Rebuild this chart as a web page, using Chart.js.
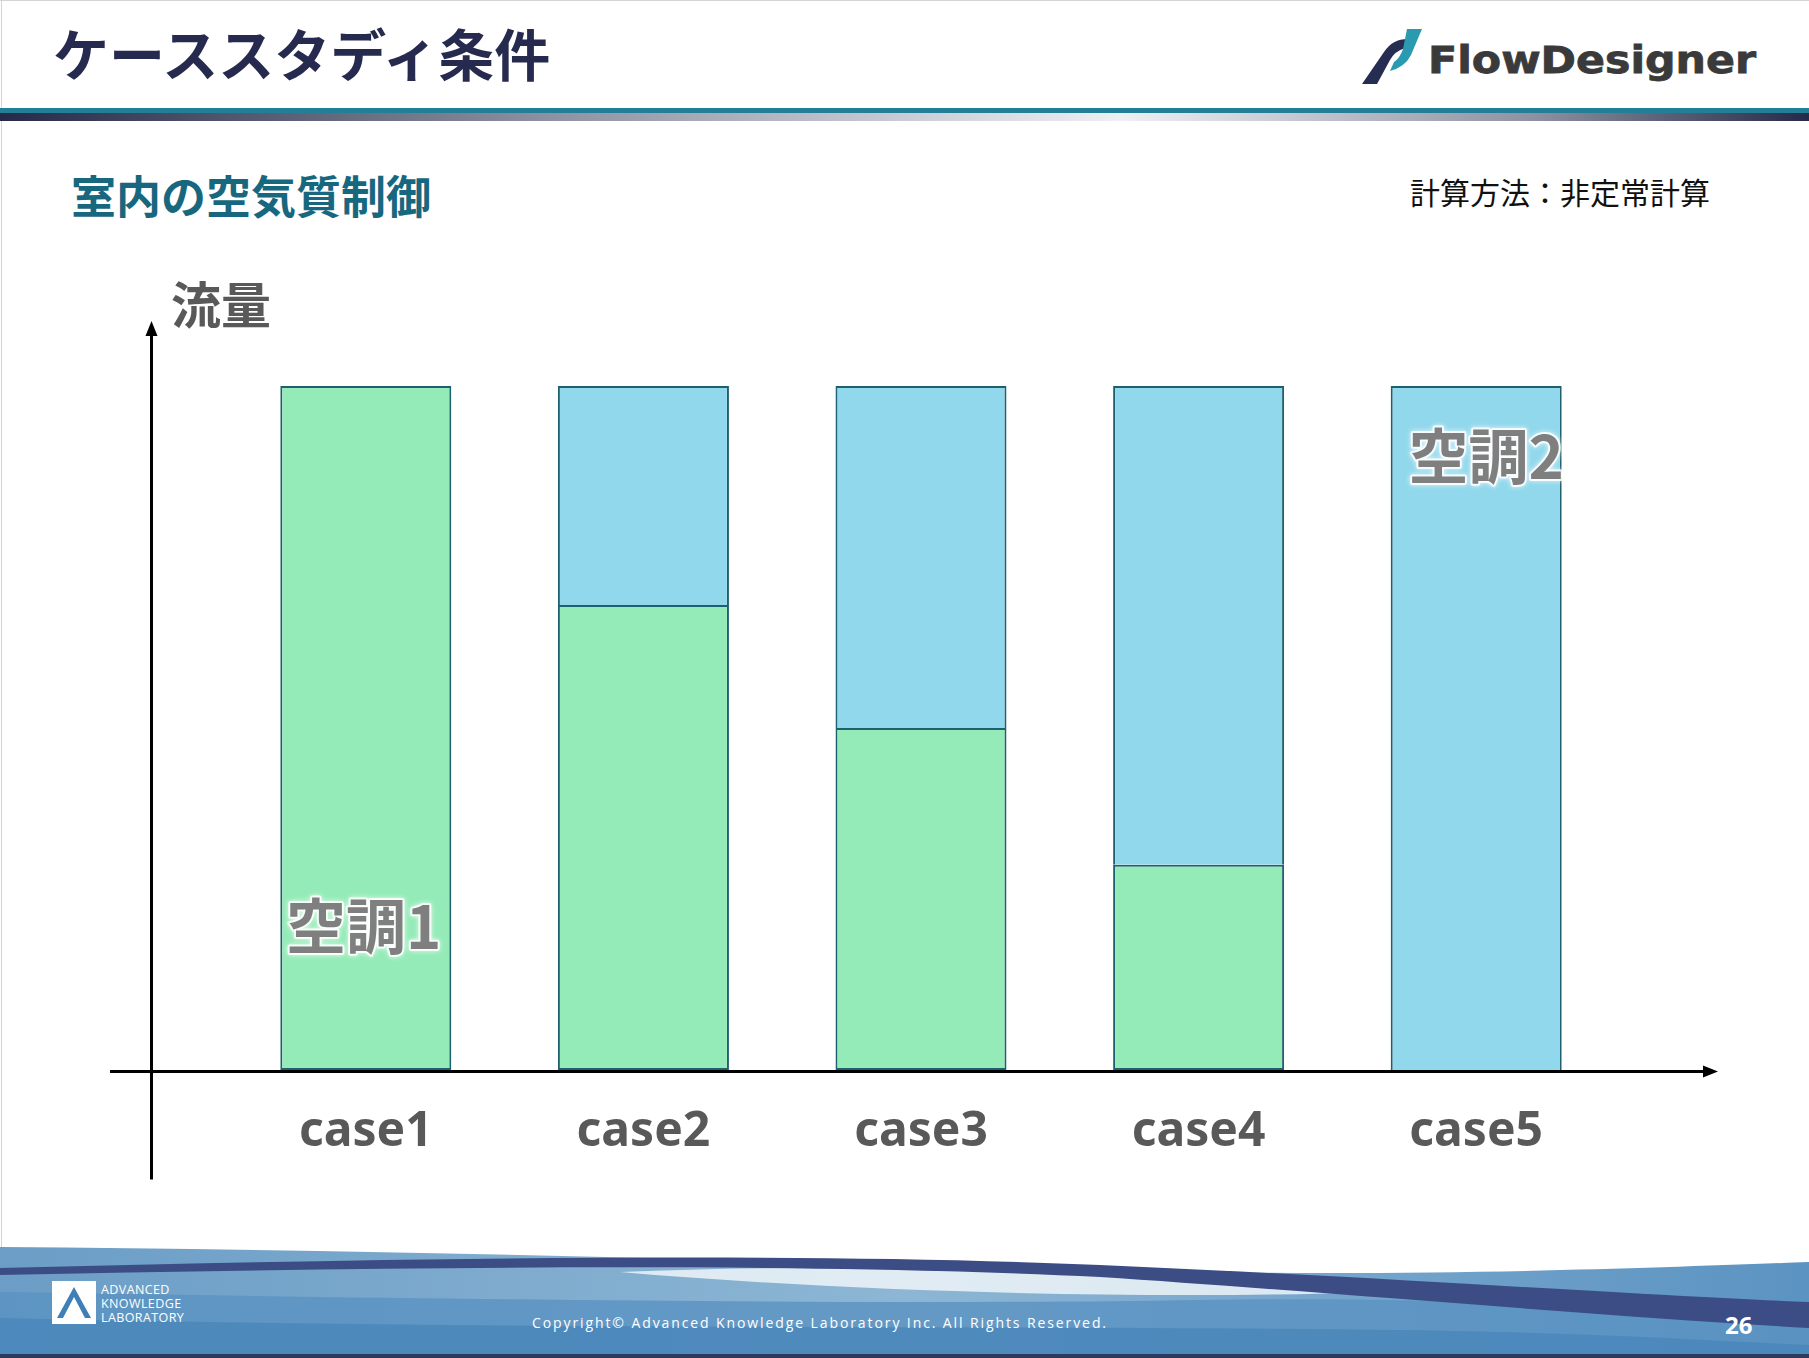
<!DOCTYPE html>
<html>
<head>
<meta charset="utf-8">
<script src="https://cdn.jsdelivr.net/npm/chart.js@4.4.1/dist/chart.umd.min.js"></script>
<style>
  body { margin: 0; width: 1809px; height: 1358px; position: relative; overflow: hidden; background: #fff; }
  .txt { position: absolute; white-space: nowrap; line-height: 1; font-family: "Noto Sans CJK JP", "Noto Sans", sans-serif; }
  #title { left: 53px; top: 24px; font-size: 56px; font-weight: 700; color: #262a4e; }
  #sub { left: 71px; top: 172px; font-size: 45px; font-weight: 700; color: #17687f; }
  #method { left: 1410px; top: 176px; font-size: 30px; color: #111; }
  #ylab { left: 171px; top: 277px; font-size: 50px; font-weight: 700; color: #595959; }
  #copy { left: 532px; top: 1316px; font-size: 14px; letter-spacing: 1.9px; color: #fff; font-family: "Open Sans", sans-serif; }
  #page { left: 1725px; top: 1313px; font-size: 24px; font-weight: 700; color: #fff; font-family: "Open Sans", sans-serif; }
  .akl { left: 101px; font-size: 12.5px; letter-spacing: 0.4px; color: #fff; font-family: "Open Sans", sans-serif; }
  canvas { position: absolute; left: 0; top: 0; }
</style>
</head>
<body>
<svg width="1809" height="1358" style="position:absolute;left:0;top:0">
  <defs>
    <linearGradient id="hdr" x1="0" x2="1" y1="0" y2="0">
      <stop offset="0" stop-color="#262a48"/>
      <stop offset="0.3" stop-color="#8c90a0"/>
      <stop offset="0.62" stop-color="#eef0f4"/>
      <stop offset="0.85" stop-color="#8c90a0"/>
      <stop offset="1" stop-color="#262a48"/>
    </linearGradient>
    <linearGradient id="foot" x1="0" x2="1" y1="0" y2="0">
      <stop offset="0" stop-color="#6b9dc6"/>
      <stop offset="0.5" stop-color="#8db6d4"/>
      <stop offset="1" stop-color="#5b93c2"/>
    </linearGradient>
  </defs>
  <rect x="0" y="0" width="1809" height="1" fill="#d4d4d4"/>
  <rect x="1" y="0" width="1" height="1358" fill="#d4d4d4"/>
  <rect x="0" y="108" width="1809" height="5" fill="#237f96"/>
  <rect x="0" y="113" width="1809" height="8" fill="url(#hdr)"/>

  <!-- FlowDesigner logo -->
  <path d="M1362,84 L1377,84 L1390,60 Q1395,51 1405,48 L1410,39 Q1393,38 1384,52 Z" fill="#262d52"/>
  <path d="M1407,29 L1422,29 L1411,55 Q1405,67 1390,71 L1394,62 Q1400,58 1403,49 Z" fill="#2a9ab0"/>
  <text x="1428" y="73" font-family="DejaVu Sans" font-weight="bold" font-size="37" fill="#3a3a3a" stroke="#3a3a3a" stroke-width="0.8" textLength="328" lengthAdjust="spacingAndGlyphs">FlowDesigner</text>

  <!-- footer waves -->
  <path d="M0,1247 C400,1250 800,1262 1100,1270 C1400,1278 1650,1268 1809,1262 L1809,1358 L0,1358 Z" fill="url(#foot)"/>
  <path d="M620,1272 C850,1262 1150,1270 1380,1292 C1150,1300 850,1292 620,1272 Z" fill="#eef4f8" opacity="0.85"/>
  <path d="M0,1292 C500,1300 900,1305 1200,1300 C1450,1296 1650,1310 1809,1318 L1809,1358 L0,1358 Z" fill="#5a92c2" opacity="0.8"/>
  <path d="M0,1318 C500,1330 1000,1325 1400,1330 C1600,1333 1700,1340 1809,1345 L1809,1358 L0,1358 Z" fill="#4a86ba" opacity="0.8"/>
  <path d="M0,1268 C400,1258 800,1252 1100,1265 C1400,1278 1650,1296 1809,1302 L1809,1328 C1600,1316 1300,1290 1100,1277 C800,1262 400,1267 0,1275 Z" fill="#3c4d85"/>
  <rect x="0" y="1354" width="1809" height="4" fill="#2b3b5a"/>

  <!-- AKL logo -->
  <rect x="52" y="1281" width="44" height="43" fill="#fff"/>
  <path d="M57,1318 L74,1287 L91,1318 L85,1318 L74,1297 L63,1318 Z" fill="#3f7fb8"/>
</svg>

<div class="txt" id="title">ケーススタディ条件</div>
<div class="txt" id="sub">室内の空気質制御</div>
<div class="txt" id="method">計算方法：非定常計算</div>
<div class="txt" id="ylab">流量</div>
<div class="txt akl" style="top:1284px">ADVANCED</div>
<div class="txt akl" style="top:1298px">KNOWLEDGE</div>
<div class="txt akl" style="top:1312px">LABORATORY</div>
<div class="txt" id="copy">Copyright© Advanced Knowledge Laboratory Inc. All Rights Reserved.</div>
<div class="txt" id="page">26</div>

<canvas id="chart" width="1809" height="1358"></canvas>

<script>
// 데이터
const cases = ['case1', 'case2', 'case3', 'case4', 'case5'];
const seriesNames = ['空調1', '空調2'];
const ac1 = [100, 68, 50, 30, 0];
const ac2 = [0, 32, 50, 70, 100];

// 축 화살표 + 라벨
const axisPlugin = {
    id: 'axisPlugin',
    afterDatasetsDraw(chart) {
        const ctx = chart.ctx;
        const area = chart.chartArea;
        const xs = chart.scales.x;
        const ys = chart.scales.y;
        const y0 = ys.getPixelForValue(0) + 1.5;
        const ax = area.left - 75.5;

        ctx.save();
        ctx.strokeStyle = '#000';
        ctx.fillStyle = '#000';
        ctx.lineWidth = 3;
        // x axis
        ctx.beginPath();
        ctx.moveTo(area.left - 117, y0);
        ctx.lineTo(area.right + 92, y0);
        ctx.stroke();
        ctx.beginPath();
        ctx.moveTo(area.right + 103, y0);
        ctx.lineTo(area.right + 88, y0 - 6);
        ctx.lineTo(area.right + 88, y0 + 6);
        ctx.closePath();
        ctx.fill();
        // y axis
        ctx.beginPath();
        ctx.moveTo(ax, y0 + 108);
        ctx.lineTo(ax, area.top - 54);
        ctx.stroke();
        ctx.beginPath();
        ctx.moveTo(ax, area.top - 65);
        ctx.lineTo(ax - 6, area.top - 50);
        ctx.lineTo(ax + 6, area.top - 50);
        ctx.closePath();
        ctx.fill();

        // case labels
        ctx.font = 'bold 48px "Noto Sans", sans-serif';
        ctx.fillStyle = '#595959';
        ctx.textAlign = 'center';
        ctx.textBaseline = 'middle';
        cases.forEach((c, i) => {
            ctx.fillText(c, xs.getPixelForValue(i), y0 + 61);
        });

        // series labels inside bars
        const m0 = chart.getDatasetMeta(0).data[0];
        const m1 = chart.getDatasetMeta(1).data[4];
        const spots = [
            [seriesNames[0], m0.x - 2, ys.getPixelForValue(21)],
            [seriesNames[1], m1.x + 10, ys.getPixelForValue(89.8)],
        ];
        ctx.font = 'bold 60px "Noto Sans CJK JP", sans-serif';
        spots.forEach(([t, x, y]) => {
            ctx.save();
            ctx.shadowColor = 'rgba(255,255,255,0.9)';
            ctx.shadowBlur = 5;
            ctx.strokeStyle = 'rgba(255,255,255,0.85)';
            ctx.lineWidth = 4;
            ctx.lineJoin = 'round';
            ctx.strokeText(t, x, y);
            ctx.restore();
            ctx.fillStyle = '#7f7f7f';
            ctx.fillText(t, x, y);
        });
        ctx.restore();
    }
};

new Chart(document.getElementById('chart'), {
    type: 'bar',
    data: {
        labels: cases,
        datasets: [{
            label: seriesNames[0],
            data: ac1,
            backgroundColor: '#95ebb8',
            borderColor: '#1e5f70',
            borderWidth: 2,
            borderSkipped: false,
        }, {
            label: seriesNames[1],
            data: ac2,
            backgroundColor: '#92d8ec',
            borderColor: '#1e5f70',
            borderWidth: { top: 2, left: 2, right: 2, bottom: 0 },
            borderSkipped: false,
        }],
    },
    options: {
        responsive: false,
        animation: false,
        devicePixelRatio: 1,
        layout: { padding: { left: 227, right: 194, top: 386, bottom: 288 } },
        datasets: { bar: { barPercentage: 0.616, categoryPercentage: 1 } },
        plugins: { legend: { display: false }, tooltip: { enabled: false } },
        scales: {
            x: { stacked: true, display: false },
            y: { stacked: true, display: false, min: 0, max: 100 },
        },
    },
    plugins: [axisPlugin],
});
</script>
</body>
</html>
